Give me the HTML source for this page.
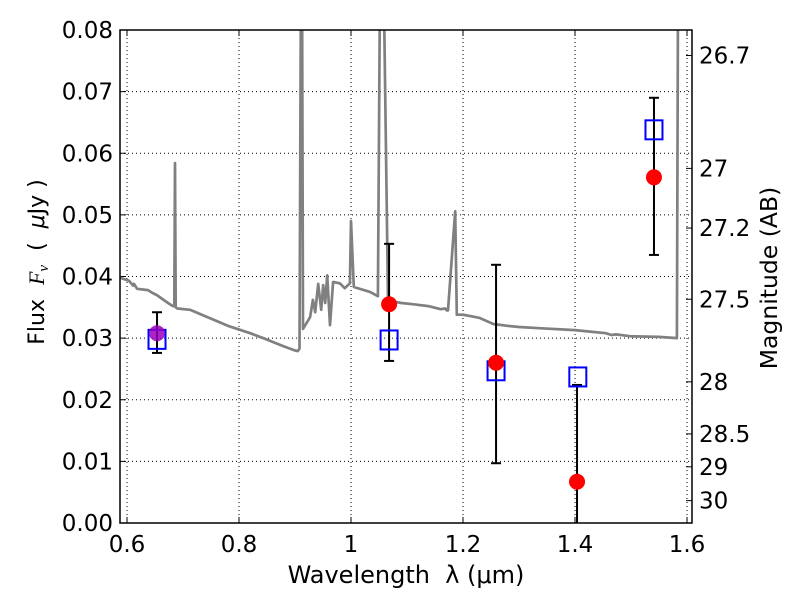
<!DOCTYPE html>
<html><head><meta charset="utf-8"><style>
html,body{margin:0;padding:0;background:#fff;}
svg{display:block;font-family:"DejaVu Sans","Liberation Sans",sans-serif;}
svg text{white-space:pre;}
</style></head><body>
<svg id="chart" width="800" height="600" viewBox="0 0 800 600"></svg>
<script>
const xTicks=[0.6,0.8,1.0,1.2,1.4,1.6];
const xTickLabels=["0.6","0.8","1","1.2","1.4","1.6"];
const yTicks=[0,0.01,0.02,0.03,0.04,0.05,0.06,0.07,0.08];
const yTickLabels=["0.00","0.01","0.02","0.03","0.04","0.05","0.06","0.07","0.08"];
const magTicks=[26.7,27,27.2,27.5,28,28.5,29,30];
const magTickLabels=["26.7","27","27.2","27.5","28","28.5","29","30"];
const specWave=[0.5875,0.6036,0.611,0.6125,0.618,0.6375,0.646,0.653,0.6732,0.682,0.6845,0.6857,0.687,0.69,0.7125,0.78,0.82,0.846,0.879,0.9,0.905,0.908,0.9107,0.9125,0.9143,0.927,0.932,0.936,0.9414,0.9468,0.9504,0.9539,0.9575,0.9625,0.968,0.98,0.989,0.998,1.0,1.005,1.034,1.048,1.052,1.058,1.066,1.071,1.09,1.11,1.138,1.16,1.168,1.171,1.1732,1.186,1.189,1.2,1.229,1.254,1.279,1.3,1.34,1.4,1.455,1.465,1.473,1.5,1.55,1.582,1.584];
const specFlux=[0.0398,0.0393,0.0385,0.0388,0.038,0.0378,0.0373,0.037,0.0357,0.0352,0.0352,0.0584,0.035,0.0348,0.0346,0.032,0.0308,0.0299,0.0287,0.028,0.0279,0.0283,0.09,0.09,0.0315,0.0334,0.0362,0.0342,0.0388,0.0346,0.0386,0.0357,0.0402,0.0321,0.0391,0.0389,0.0381,0.0389,0.049,0.0383,0.0375,0.0368,0.09,0.09,0.0363,0.036,0.0357,0.0355,0.0352,0.0347,0.0348,0.0345,0.0345,0.0506,0.0338,0.0338,0.0333,0.0323,0.032,0.0318,0.0316,0.0313,0.0308,0.0305,0.0306,0.0303,0.0302,0.030,0.09];
const obsWave=[1.068,1.259,1.4036,1.541];
const obsFlux=[0.0355,0.026,0.0067,0.0561];
const obsErrLo=[0.0263,0.0097,-0.005,0.0435];
const obsErrHi=[0.0453,0.0419,0.0224,0.069];
const purpWave=[0.6536];
const purpFlux=[0.0308];
const purpErrLo=[0.0276];
const purpErrHi=[0.0342];
const modelWave=[0.6536,1.068,1.259,1.405,1.541];
const modelFlux=[0.0298,0.0297,0.0247,0.0237,0.0638];

const L=120,R=692,T=30,B=523;
const X0=0.5875,X1=1.6089,Y0=0,Y1=0.08;
const sx=v=>L+(v-X0)/(X1-X0)*(R-L);
const sy=v=>B-(v-Y0)/(Y1-Y0)*(B-T);
const NS="http://www.w3.org/2000/svg";
const svg=document.getElementById('chart');
function mk(tag,attrs,parent){const e=document.createElementNS(NS,tag);for(const k in attrs)e.setAttribute(k,attrs[k]);(parent||svg).appendChild(e);return e;}

const defs=mk('defs',{});
const cp=mk('clipPath',{id:'clip'},defs);
mk('rect',{x:L,y:T,width:R-L,height:B-T},cp);

const grid=mk('g',{});


xTicks.forEach((t,i)=>{
  const x=sx(t);
  const gl=mk('line',{x1:x,x2:x,y1:T,y2:B,stroke:'#000','stroke-width':1,'stroke-dasharray':'1,3'},grid);
  
  
  mk('line',{x1:x,x2:x,y1:B,y2:B-6,stroke:'#000'});
  mk('line',{x1:x,x2:x,y1:T,y2:T+6,stroke:'#000'});
  const tl=mk('text',{x:x,y:B+29,'text-anchor':'middle','font-size':23});
  tl.textContent=xTickLabels[i];
  
  
});
yTicks.forEach((t,i)=>{
  const y=sy(t);
  const gl=mk('line',{x1:L,x2:R,y1:y,y2:y,stroke:'#000','stroke-width':1,'stroke-dasharray':'1,3'},grid);
  
  
  mk('line',{x1:L,x2:L+6,y1:y,y2:y,stroke:'#000'});
  const tl=mk('text',{x:L-7,y:y+8,'text-anchor':'end','font-size':23});
  tl.textContent=yTickLabels[i];
  
  
});
magTicks.forEach((m,i)=>{
  const f=Math.pow(10,(23.9-m)/2.5);
  const y=sy(f);
  mk('line',{x1:R,x2:R-6,y1:y,y2:y,stroke:'#000'});
  const tl=mk('text',{x:R+7,y:y+8,'font-size':23});
  tl.textContent=magTickLabels[i];
  
  
});

const pts=specWave.map((w,i)=>sx(w).toFixed(1)+','+sy(specFlux[i]).toFixed(1)).join(' ');
const spec=mk('polyline',{points:pts,fill:'none',stroke:'#808080','stroke-width':2.7,'stroke-linejoin':'round','clip-path':'url(#clip)'});



const marks=mk('g',{'clip-path':'url(#clip)'});
function errbar(w,lo,hi,name){
  const x=sx(w);
  const g=mk('g',{},marks);
  
  
  mk('line',{x1:x,x2:x,y1:sy(lo),y2:sy(hi),stroke:'#000','stroke-width':2},g);
  mk('line',{x1:x-5,x2:x+5,y1:sy(lo),y2:sy(lo),stroke:'#000','stroke-width':2},g);
  mk('line',{x1:x-5,x2:x+5,y1:sy(hi),y2:sy(hi),stroke:'#000','stroke-width':2},g);
}
obsWave.forEach((w,i)=>errbar(w,obsErrLo[i],obsErrHi[i],'observed-error-bar'));
purpWave.forEach((w,i)=>errbar(w,purpErrLo[i],purpErrHi[i],'optical-error-bar'));
modelWave.forEach((w,i)=>{
  const r=mk('rect',{x:sx(w)-8.5,y:sy(modelFlux[i])-9.5,width:17,height:19,fill:'none',stroke:'#0000ff','stroke-width':2},marks);
  
  
});
obsWave.forEach((w,i)=>{
  const c=mk('circle',{cx:sx(w),cy:sy(obsFlux[i]),r:8,fill:'#ff0000'},marks);
  
  
});
purpWave.forEach((w,i)=>{
  const c=mk('circle',{cx:sx(w),cy:sy(purpFlux[i]),r:8,fill:'#9900bb','fill-opacity':0.85},marks);
  
  
});

const frame=mk('rect',{x:L,y:T,width:R-L,height:B-T,fill:'none',stroke:'#000','stroke-width':1.5});



const xl=mk('text',{x:406,y:583,'text-anchor':'middle','font-size':24});
xl.textContent='Wavelength  λ (μm)';


const yl=mk('text',{x:0,y:0,'text-anchor':'middle','font-size':22,transform:'translate(44,262) rotate(-90)'});
yl.innerHTML='Flux  <tspan font-style="italic" font-family="Liberation Serif,serif">F</tspan><tspan font-style="italic" font-size="15" dy="4" font-family="Liberation Serif,serif">ν</tspan><tspan dy="-4">  (  </tspan><tspan font-style="italic">μ</tspan>Jy )';


const ml=mk('text',{x:0,y:0,'text-anchor':'middle','font-size':23.5,transform:'translate(777,278) rotate(-90)'});
ml.textContent='Magnitude (AB)';


</script>
</body></html>
